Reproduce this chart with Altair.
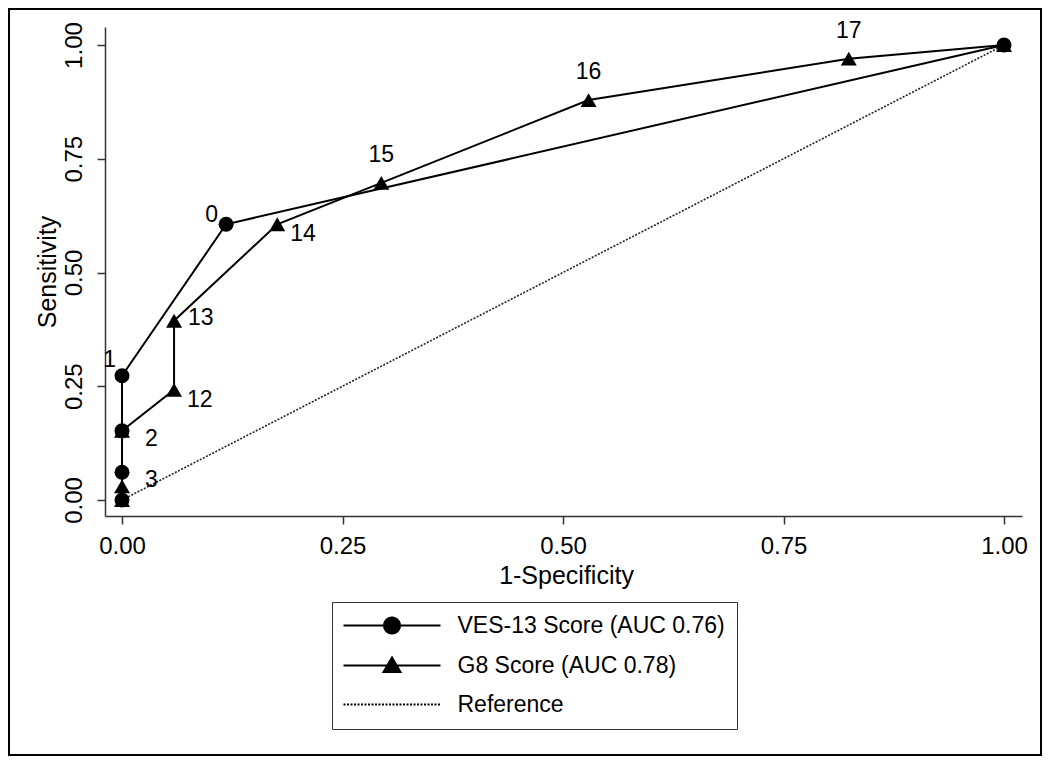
import altair as alt
import pandas as pd

# ---------------- data ----------------
series_names = ["VES-13 Score (AUC 0.76)", "G8 Score (AUC 0.78)", "Reference"]

ves_x = [0.0, 0.0, 0.0, 0.0, 0.118, 1.0]
ves_y = [0.0, 0.061, 0.152, 0.273, 0.606, 1.0]

g8_x = [0.0, 0.0, 0.0, 0.059, 0.059, 0.176, 0.294, 0.529, 0.824, 1.0]
g8_y = [0.0, 0.030, 0.152, 0.242, 0.394, 0.606, 0.697, 0.879, 0.970, 1.0]

ref_x = [0.0, 1.0]
ref_y = [0.0, 1.0]

label_text = ["0", "1", "2", "3", "12", "13", "14", "15", "16", "17"]
label_x = [0.118, 0.0, 0.0, 0.0, 0.059, 0.059, 0.176, 0.294, 0.529, 0.824]
label_y = [0.606, 0.273, 0.152, 0.061, 0.242, 0.394, 0.606, 0.697, 0.879, 0.970]
label_pos = ["nw", "nnw", "se", "se", "sse", "e", "sse", "n", "n", "n"]

tick_values = [0.0, 0.25, 0.5, 0.75, 1.0]

# ---------------- tables ----------------
curve_df = pd.DataFrame(
    [{"series": series_names[0], "x": x, "y": y, "order": i} for i, (x, y) in enumerate(zip(ves_x, ves_y))]
    + [{"series": series_names[1], "x": x, "y": y, "order": i} for i, (x, y) in enumerate(zip(g8_x, g8_y))]
)
ref_df = pd.DataFrame({"series": series_names[2], "x": ref_x, "y": ref_y, "order": [0, 1]})
label_df = pd.DataFrame({"label": label_text, "x": label_x, "y": label_y, "pos": label_pos})
legend_df = pd.DataFrame({"series": series_names})
frame_df = pd.DataFrame({"frame": [0]})

FONT = "Liberation Sans, Arial, Helvetica, sans-serif"
W, H = 917, 489

xscale = alt.Scale(domain=[-0.0193, 1.0204], nice=False, zero=False)
yscale = alt.Scale(domain=[-0.0352, 1.0396], nice=False, zero=False)

xaxis = alt.Axis(
    values=tick_values, format=".2f", grid=False, tickSize=8, tickWidth=1.5,
    tickColor="#333", domainColor="#333", domainWidth=1.5,
    labelFontSize=24, labelFont=FONT, labelColor="black", labelBaseline="alphabetic",
    labelPadding=29, title="1-Specificity", titleFont=FONT, titleFontSize=25,
    titleFontWeight="normal", titleColor="black", titleBaseline="alphabetic",
    titleX=461, titleY=67, labelFlush=False,
)
yaxis = alt.Axis(
    values=tick_values, format=".2f", grid=False, tickSize=8, tickWidth=1.5,
    tickColor="#333", domainColor="#333", domainWidth=1.5,
    labelFontSize=24, labelFont=FONT, labelColor="black", labelAngle=270,
    labelAlign="center", labelBaseline="alphabetic", labelPadding=16,
    title="Sensitivity", titleFont=FONT, titleFontSize=25, titleFontWeight="normal",
    titleColor="black", titleAngle=270, titleAlign="center", titleBaseline="alphabetic",
    titleX=-50, titleY=244.5, labelFlush=False,
)

X = alt.X("x:Q", scale=xscale, axis=xaxis)
Y = alt.Y("y:Q", scale=yscale, axis=yaxis)

curves = alt.Chart(curve_df).mark_line(color="black", strokeWidth=2).encode(
    x=X, y=Y, detail="series:N", order="order:Q"
)
reference = alt.Chart(ref_df).mark_line(color="#222", strokeWidth=1.6, strokeDash=[2, 1.5]).encode(
    x=X, y=Y, order="order:Q"
)
tri_pts = alt.Chart(curve_df).transform_filter(
    alt.datum.series == series_names[1]
).mark_point(filled=True, shape="triangle-up", size=256, color="black", opacity=1).encode(x=X, y=Y)
circ_pts = alt.Chart(curve_df).transform_filter(
    alt.datum.series == series_names[0]
).mark_point(filled=True, shape="circle", size=225, color="black", opacity=1).encode(x=X, y=Y)

label_styles = {
    "nw": dict(align="right", dx=-8, dy=-2),
    "nnw": dict(align="right", dx=-6, dy=-9),
    "se": dict(align="left", dx=23, dy=15),
    "sse": dict(align="left", dx=13, dy=17),
    "e": dict(align="left", dx=14, dy=4),
    "n": dict(align="center", dx=0, dy=-21),
}
label_layers = [
    alt.Chart(label_df).transform_filter(alt.datum.pos == p).mark_text(
        baseline="alphabetic", fontSize=23, font=FONT, color="black", **st
    ).encode(x=X, y=Y, text="label:N")
    for p, st in label_styles.items()
]

circle_path = "M-4.85,0H4.85M0.8,0A0.8,0.8 0 1,1 -0.8,0A0.8,0.8 0 1,1 0.8,0Z"
triangle_path = "M-4.85,0H4.85M0,-0.8L0.85,0.65L-0.85,0.65Z"
line_path = "M-4.85,0H4.85"

legend_spec = dict(
    orient="none", legendX=227, legendY=575, title=None,
    labelFontSize=23, labelFont=FONT, labelColor="black", labelLimit=500,
    symbolSize=400, symbolStrokeWidth=2, symbolOffset=36.5, labelOffset=54,
    rowPadding=15, padding=12, strokeColor="#333", fillColor="white",
)
legend_layer = alt.Chart(legend_df).transform_filter("false").mark_point(
    filled=True, fill="black", stroke="black", strokeWidth=2, size=400, opacity=1
).encode(
    shape=alt.Shape("series:N", scale=alt.Scale(domain=series_names,
                    range=[circle_path, triangle_path, line_path]),
                    legend=alt.Legend(**legend_spec)),
    strokeDash=alt.StrokeDash("series:N", scale=alt.Scale(domain=series_names,
                              range=[[1, 0], [1, 0], [2, 1.5]]),
                              legend=alt.Legend(**legend_spec)),
)

frame = alt.Chart(frame_df).mark_rect(filled=False, stroke="black", strokeWidth=2).encode(
    x=alt.value(-96), x2=alt.value(936), y=alt.value(-18), y2=alt.value(728)
)

chart = alt.layer(
    frame, reference, curves, tri_pts, circ_pts, *label_layers, legend_layer
).properties(
    width=W, height=H,
    autosize=alt.AutoSizeParams(type="none"),
    padding={"left": 97, "top": 19, "right": 20, "bottom": 240},
    background="white",
).configure_view(strokeWidth=0)

chart.save("out.html", embed_options={"renderer": "svg", "actions": False})
